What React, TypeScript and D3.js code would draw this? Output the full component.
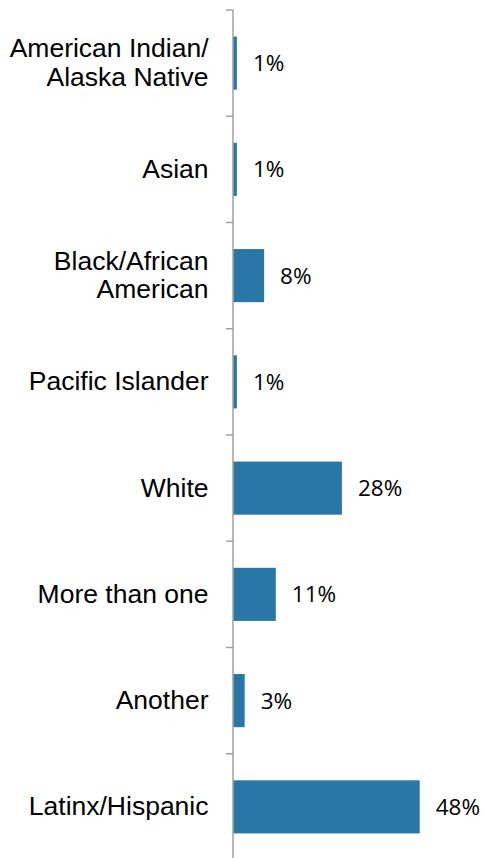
import React from "react";
import * as d3 from "d3";

const categories = [
  "American Indian/\nAlaska Native",
  "Asian",
  "Black/African\nAmerican",
  "Pacific Islander",
  "White",
  "More than one",
  "Another",
  "Latinx/Hispanic",
];
const values = [0.01, 0.01, 0.08, 0.01, 0.28, 0.11, 0.03, 0.48];
const valueLabels = ["1%", "1%", "8%", "1%", "28%", "11%", "3%", "48%"];

const W = 484;
const H = 858;
const AXIS_X = 233;
const TOP = 10;
const BOTTOM = 860;
const BAR_COLOR = "#2877a7";
const AXIS_COLOR = "#a0a0a0";

export default function App() {
  const y = d3
    .scaleBand<string>()
    .domain(categories)
    .range([TOP, BOTTOM])
    .paddingInner(0.5)
    .paddingOuter(0.25);
  const x = d3.scaleLinear().domain([0, 0.5]).range([AXIS_X, AXIS_X + 194.5]);
  const step = y.step();
  const ticks = d3.range(categories.length + 1).map((i) => TOP + i * step);

  const lineH = 28.5;
  const capHalf = 9.6;

  return (
    <svg
      width={W}
      height={H}
      style={{ position: "absolute", left: 0, top: 0, background: "#fff" }}
    >
      {categories.map((c, i) => {
        const y0 = y(c)!;
        const cy = y0 + y.bandwidth() / 2;
        const lines = c.split("\n");
        const firstBase = cy - ((lines.length - 1) * lineH) / 2 + capHalf - 1;
        return (
          <g key={c}>
            <rect
              x={x(0)}
              y={y0}
              width={x(values[i]) - x(0)}
              height={y.bandwidth()}
              fill={BAR_COLOR}
            />
            <text
              x={208.5}
              textAnchor="end"
              fontFamily="'Liberation Sans', Arial, sans-serif"
              fontSize={26.5}
              fill="#000"
            >
              {lines.map((l, k) => (
                <tspan key={k} x={208.5} y={firstBase + k * lineH}>
                  {l}
                </tspan>
              ))}
            </text>
            <text
              x={x(values[i]) + 16}
              y={cy + 8}
              fontFamily="'Open Sans', sans-serif"
              fontSize={22.5}
              fill="#000"
            >
              {valueLabels[i]}
            </text>
          </g>
        );
      })}
      <line
        x1={AXIS_X}
        x2={AXIS_X}
        y1={TOP}
        y2={BOTTOM}
        stroke={AXIS_COLOR}
        strokeWidth={1.5}
      />
      {ticks.map((t, i) => (
        <line
          key={i}
          x1={AXIS_X - 7}
          x2={AXIS_X}
          y1={t}
          y2={t}
          stroke={AXIS_COLOR}
          strokeWidth={1.5}
        />
      ))}
    </svg>
  );
}
